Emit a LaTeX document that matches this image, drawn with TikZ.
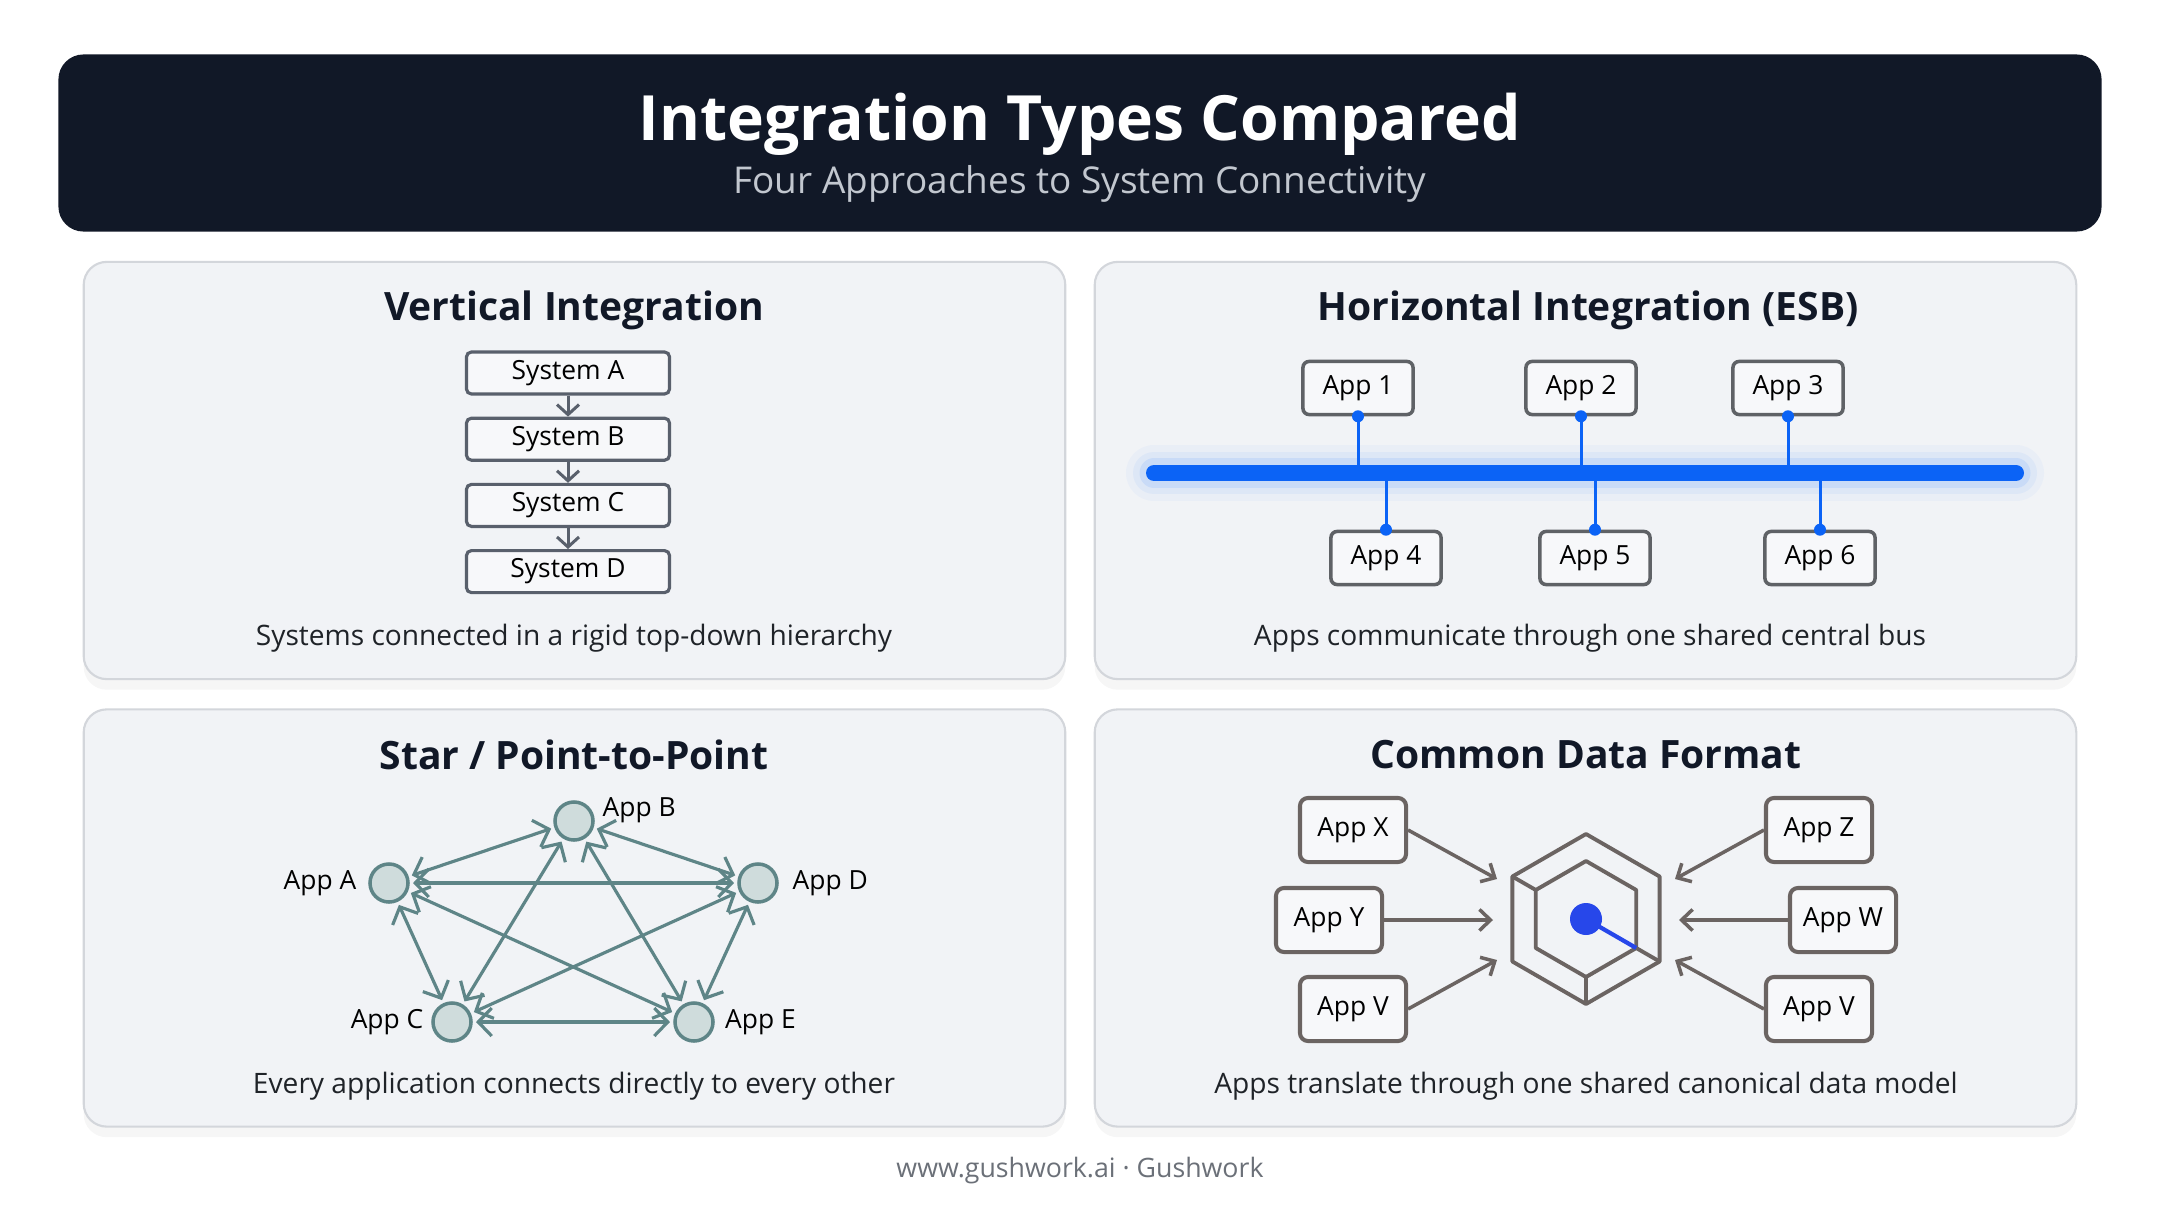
\documentclass[tikz,border=0pt]{standalone}
\usepackage{fontspec}
\setmainfont{Open Sans}
\usetikzlibrary{positioning,arrows.meta,shadows}

\definecolor{headbg}{HTML}{111827}
\definecolor{subgray}{HTML}{C2C7CF}
\definecolor{panelbg}{HTML}{F1F3F6}
\definecolor{panelline}{HTML}{D3D6DB}
\definecolor{ink}{HTML}{111827}
\definecolor{textgray}{HTML}{1F2328}
\definecolor{sysgray}{HTML}{59606C}
\definecolor{esbgray}{HTML}{5F6266}
\definecolor{busblue}{HTML}{0B63F6}
\definecolor{glowblue}{HTML}{5C9BFF}
\definecolor{peerteal}{HTML}{5E8587}
\definecolor{tealfill}{HTML}{CFDCDC}
\definecolor{warmgray}{HTML}{6B6462}
\definecolor{dotblue}{HTML}{2747EA}
\definecolor{footgray}{HTML}{6B7078}
\definecolor{boxfill}{HTML}{F7F8FA}

\begin{document}
\begin{tikzpicture}[x=0.01cm, y=-0.01cm,
  panel/.style={rectangle, draw=panelline, line width=0.6pt, fill=panelbg,
                rounded corners=0.23cm, minimum width=9.81cm, minimum height=4.17cm,
                drop shadow={opacity=0.07, shadow xshift=0pt, shadow yshift=-3pt}},
  ptitle/.style={font=\fontsize{11.1}{13}\selectfont\bfseries, text=ink},
  caption/.style={font=\fontsize{8.0}{9}\selectfont, text=textgray},
  sysbox/.style={rectangle, draw=sysgray, line width=0.9pt, fill=boxfill, rounded corners=0.05cm,
                 minimum width=2.03cm, minimum height=0.42cm, inner sep=0pt,
                 font=\fontsize{7.5}{9}\selectfont},
  sysarrow/.style={sysgray, line width=0.85pt, -{Straight Barb[length=1mm,width=2.2mm]}},
  esbbox/.style={rectangle, draw=esbgray, line width=1pt, fill=boxfill, rounded corners=0.06cm,
                 minimum width=1.10cm, minimum height=0.53cm, inner sep=0pt,
                 font=\fontsize{7.5}{9}\selectfont},
  drop/.style={busblue, line width=0.85pt},
  peer/.style={circle, draw=peerteal, line width=1pt, fill=tealfill, minimum size=0.38cm,
               inner sep=0pt, outer sep=0.05cm},
  peerlink/.style={peerteal, line width=0.9pt,
                   {Straight Barb[length=1.35mm,width=2.8mm]}-{Straight Barb[length=1.35mm,width=2.8mm]}},
  lbl/.style={inner sep=0pt, font=\fontsize{7.5}{9}\selectfont},
  cdfbox/.style={rectangle, draw=warmgray, line width=1.15pt, fill=boxfill, rounded corners=0.08cm,
                 minimum width=1.06cm, minimum height=0.64cm, inner sep=0pt,
                 font=\fontsize{7.5}{9}\selectfont},
  cdfarrow/.style={warmgray, line width=1pt, -{Straight Barb[length=1.1mm,width=2.1mm]}},
  hexline/.style={warmgray, line width=1.1pt, line join=round}]

  \fill[white] (0,0) rectangle (2160,1206);
  \useasboundingbox (0,0) rectangle (2160,1206);

  % Header
  \node[rectangle, fill=headbg, rounded corners=0.25cm, minimum width=20.42cm,
        minimum height=1.77cm] (head) at (1080,143) {};
  \node[text=white, font=\fontsize{17.75}{21}\selectfont\bfseries] (title) at (1080,124)
    {Integration Types Compared};
  \node[text=subgray, font=\fontsize{10.5}{12}\selectfont] (subtitle) at (1080,184)
    {Four Approaches to System Connectivity};

  % Panels
  \node[panel] (vpanel) at (574.5,470.5) {};
  \node[panel] (hpanel) at (1585.5,470.5) {};
  \node[panel] (spanel) at (574.5,918) {};
  \node[panel] (cpanel) at (1585.5,918) {};

  % Vertical integration
  \node[ptitle] (vtitle) at (574,310) {Vertical Integration};
  \node[sysbox] (sa) at (568,373) {System A};
  \node[sysbox, below=0.21cm of sa] (sb) {System B};
  \node[sysbox, below=0.21cm of sb] (sc) {System C};
  \node[sysbox, below=0.21cm of sc] (sd) {System D};
  \draw[sysarrow] (sa) -- (sb);
  \draw[sysarrow] (sb) -- (sc);
  \draw[sysarrow] (sc) -- (sd);
  \node[caption] (vcap) at (574,638) {Systems connected in a rigid top-down hierarchy};

  % Horizontal integration (ESB)
  \node[ptitle] (htitle) at (1588,310) {Horizontal Integration (ESB)};
  \coordinate (busL) at (1154,473);
  \coordinate (busR) at (2016,473);
  \draw[glowblue, opacity=0.05, line width=0.56cm, line cap=round] (busL) -- (busR);
  \draw[glowblue, opacity=0.08, line width=0.42cm, line cap=round] (busL) -- (busR);
  \draw[glowblue, opacity=0.15, line width=0.29cm, line cap=round] (busL) -- (busR);
  \node[esbbox] (e1) at (1358,388) {App 1};
  \node[esbbox] (e2) at (1581,388) {App 2};
  \node[esbbox] (e3) at (1788,388) {App 3};
  \node[esbbox] (e4) at (1386,558) {App 4};
  \node[esbbox] (e5) at (1595,558) {App 5};
  \node[esbbox] (e6) at (1820,558) {App 6};
  \foreach \a in {e1,e2,e3,e4,e5,e6} {
    \draw[drop] (\a) -- (\a |- busL);
  }
  \draw[busblue, line width=0.16cm, line cap=round] (busL) -- (busR);
  \foreach \a in {e1,e2,e3} \fill[busblue] (\a.south) circle[radius=0.06cm];
  \foreach \a in {e4,e5,e6} \fill[busblue] (\a.north) circle[radius=0.06cm];
  \node[caption] (hcap) at (1590,638) {Apps communicate through one shared central bus};

  % Star / point-to-point
  \node[ptitle] (stitle) at (574,755) {Star / Point-to-Point};
  \node[peer] (pb) at (574,821) {};
  \node[peer] (pa) at (389,883) {};
  \node[peer] (pd) at (758,883) {};
  \node[peer] (pc) at (452,1022) {};
  \node[peer] (pe) at (694,1022) {};
  \foreach \u/\v in {pa/pb, pa/pc, pa/pd, pa/pe, pb/pc, pb/pd, pb/pe, pc/pd, pc/pe, pd/pe}
    \draw[peerlink] (\u) -- (\v);
  \node[lbl, right=0.04cm of pb, yshift=0.11cm] {App B};
  \node[lbl, left=0.08cm of pa] {App A};
  \node[lbl, right=0.10cm of pd] {App D};
  \node[lbl, left=0.04cm of pc] {App C};
  \node[lbl, right=0.065cm of pe] {App E};
  \node[caption] (scap) at (574,1086) {Every application connects directly to every other};

  % Common data format
  \node[ptitle] (ctitle) at (1586,755) {Common Data Format};
  \node[cdfbox] (cx) at (1353,830) {App X};
  \node[cdfbox] (cy) at (1329,920) {App Y};
  \node[cdfbox] (cv) at (1353,1009) {App V};
  \node[cdfbox] (cz) at (1819,830) {App Z};
  \node[cdfbox] (cw) at (1843,920) {App W};
  \node[cdfbox] (cv2) at (1819,1009) {App V};
  \coordinate (tx) at (1497,879);
  \coordinate (ty) at (1493,920);
  \coordinate (tv) at (1497,960);
  \coordinate (tz) at (1675,879);
  \coordinate (tw) at (1679,920);
  \coordinate (tv2) at (1675,960);
  \draw[cdfarrow] (cx.east) -- (tx);
  \draw[cdfarrow] (cy.east) -- (ty);
  \draw[cdfarrow] (cv.east) -- (tv);
  \draw[cdfarrow] (cz.west) -- (tz);
  \draw[cdfarrow] (cw.west) -- (tw);
  \draw[cdfarrow] (cv2.west) -- (tv2);
  \begin{scope}[shift={(1586,919)}]
    \draw[hexline] (30:85) -- (90:85) -- (150:85) -- (210:85) -- (270:85) -- (330:85) -- cycle;
    \draw[hexline] (30:58) -- (90:58) -- (150:58) -- (210:58) -- (270:58) -- (330:58) -- cycle;
    \draw[hexline] (210:58) -- (210:85);
    \draw[hexline] (90:58) -- (90:85);
    \draw[hexline] (30:58) -- (30:85);
    \draw[dotblue, line width=1.2pt] (0,0) -- (30:58);
    \fill[dotblue] (0,0) circle[radius=0.16cm];
  \end{scope}
  \node[caption] (ccap) at (1586,1086) {Apps translate through one shared canonical data model};

  % Footer
  \node[text=footgray, font=\fontsize{7.6}{9}\selectfont] (foot) at (1080,1171)
    {www.gushwork.ai · Gushwork};
\end{tikzpicture}
\end{document}
